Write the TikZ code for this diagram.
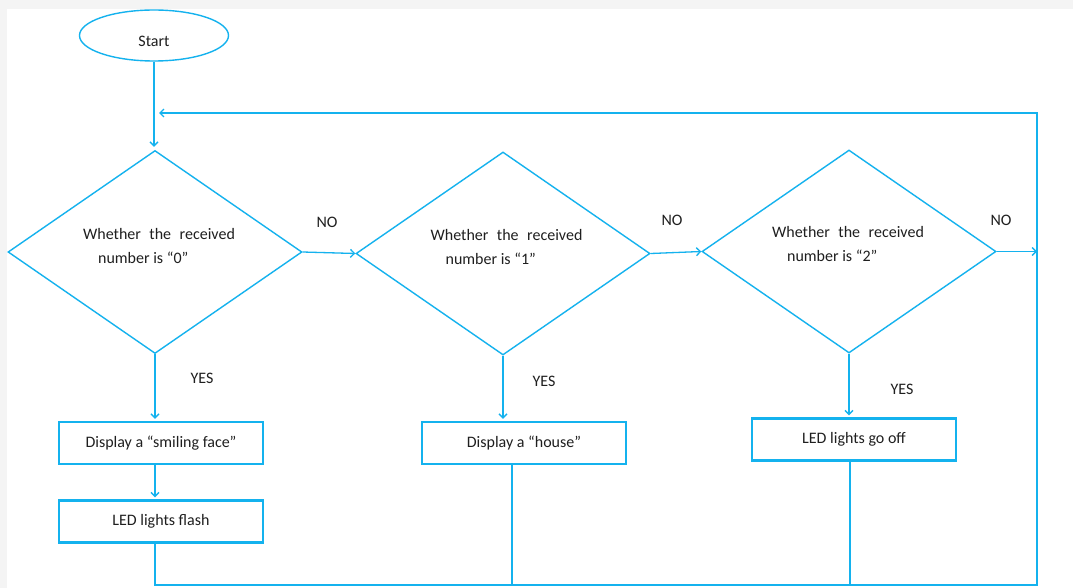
\documentclass[tikz,border=0pt]{standalone}
\usepackage{fontspec}
\setmainfont{Carlito}
\usetikzlibrary{positioning,arrows.meta,shapes.geometric}
\definecolor{flowblue}{RGB}{20,178,238}
\definecolor{pagegray}{RGB}{244,244,244}
\newcommand{\wsp}{\hspace{8.5pt}}

\begin{document}
\begin{tikzpicture}[x=1pt, y=-1pt, >={Straight Barb[length=4pt,width=8pt]},
    every node/.style={font=\fontsize{16}{24}\selectfont, text=black!88},
    decision/.style={draw=flowblue, line width=1.4pt, diamond, minimum width=294pt, minimum height=203pt, inner sep=0pt},
    question/.style={align=left, inner sep=0pt},
    action/.style={draw=flowblue, line width=2.4pt, minimum width=204pt, minimum height=42pt, inner sep=0pt},
    flow/.style={draw=flowblue, line width=1.3pt}]
      \useasboundingbox (0,0) rectangle (1073,588);
      \fill[pagegray] (0,0) rectangle (1073,588);
      \fill[white] (7,9) rectangle (1073,588);

      \node[draw=flowblue, line width=1.4pt, ellipse, minimum width=149pt, minimum height=51pt, text height=23.3pt, text depth=2pt] (start) at (154,35.5) {Start};
      \node[decision] (d0) at (155,252) {};
      \node[decision] (d1) at (503,253.5) {};
      \node[decision] (d2) at (849,251.5) {};
      \node[question] (q0) at (159,246) {Whether\wsp the\wsp received\\\hspace*{15pt}number is “0”};
      \node[question] (q1) at (506.5,247.5) {Whether\wsp the\wsp received\\\hspace*{15pt}number is “1”};
      \node[question] (q2) at (848,244.5) {Whether\wsp the\wsp received\\\hspace*{15pt}number is “2”};
      \node[action] (b0) at (161,443) {Display a “smiling face”};
      \node[action] (b1) at (524,443) {Display a “house”};
      \node[action] (b2) at (854,439.5) {LED lights go off};
      \node[action] (b3) at (161,521.5) {LED lights flash};

      \coordinate (back) at (159,113);
      \coordinate (turn) at (1037,113);
      \coordinate (base) at (1037,585);

      \draw[flow,->, shorten >=3pt] (start.south) -- (start.south |- d0.north);
      \draw[flow,->] (d0.east) -- (d1.west);
      \draw[flow,->] (d1.east) -- (d2.west);
      \draw[flow,->] (d2.east) -- (d2.east -| base);
      \draw[flow,->, shorten >=2pt] (d0.south) -- (d0.south |- b0.north);
      \draw[flow,->, shorten >=2pt] (d1.south) -- (d1.south |- b1.north);
      \draw[flow,->, shorten >=2pt] (d2.south) -- (d2.south |- b2.north);
      \draw[flow,->, shorten >=2pt] (d0.south |- b0.south) -- (d0.south |- b3.north);
      \draw[flow,->] (d0.south |- b3.south) |- (base) -- (turn) -- (back);
      \draw[flow] ([xshift=-12pt]b1.south) -- ([xshift=-12pt]b1.south |- base);
      \draw[flow] ([xshift=-4pt]b2.south) -- ([xshift=-4pt]b2.south |- base);

      \node (no0) at (327,222) {NO};
      \node (no1) at (672,220) {NO};
      \node (no2) at (1001,220) {NO};
      \node (yes0) at (202,378) {YES};
      \node (yes1) at (544,381) {YES};
      \node (yes2) at (902,389) {YES};
    \end{tikzpicture}
\end{document}
